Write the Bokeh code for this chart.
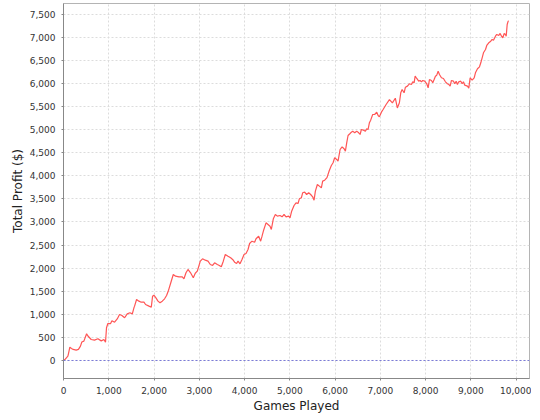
from bokeh.plotting import figure
from bokeh.models import Span, NumeralTickFormatter, FixedTicker, Range1d
from bokeh.embed import file_html
from bokeh.resources import INLINE

games = [0, 30, 97, 110, 140, 175, 215, 280, 330, 375, 405, 450, 510, 540, 612, 685, 760, 833, 893, 928,
         950, 980, 1040, 1070, 1128, 1187, 1238, 1290, 1350, 1408, 1467, 1520, 1556, 1570, 1614, 1666, 1717,
         1777, 1813, 1888, 1939, 1968, 1997, 2042, 2087, 2131, 2182, 2233, 2277, 2321, 2365, 2425, 2476,
         2551, 2624, 2661, 2706, 2750, 2807, 2867, 2911, 2955, 2971, 3022, 3072, 3132, 3192, 3243, 3294,
         3338, 3398, 3442, 3486, 3530, 3574, 3634, 3692, 3736, 3780, 3824, 3855, 3899, 3943, 3988, 4032,
         4076, 4111, 4164, 4222, 4253, 4311, 4355, 4386, 4421, 4474, 4518, 4562, 4591, 4635, 4680, 4724,
         4783, 4828, 4872, 4916, 4974, 5004, 5040, 5093, 5137, 5181, 5210, 5254, 5283, 5327, 5371, 5416,
         5460, 5504, 5535, 5564, 5608, 5652, 5696, 5725, 5770, 5820, 5870, 5917, 5955, 5990, 6034, 6065,
         6110, 6154, 6198, 6227, 6256, 6286, 6331, 6359, 6388, 6432, 6477, 6521, 6552, 6580, 6625, 6669,
         6698, 6728, 6757, 6786, 6830, 6874, 6919, 6950, 6978, 7023, 7060, 7130, 7200, 7265, 7330, 7375,
         7420, 7450, 7480, 7524, 7553, 7597, 7641, 7686, 7715, 7745, 7768, 7803, 7847, 7877, 7907, 7935,
         7980, 8024, 8055, 8084, 8128, 8157, 8187, 8216, 8245, 8276, 8305, 8349, 8393, 8437, 8481, 8510,
         8541, 8570, 8614, 8643, 8674, 8702, 8731, 8776, 8806, 8835, 8864, 8924, 8953, 8983, 9027, 9072,
         9100, 9145, 9189, 9218, 9248, 9277, 9322, 9350, 9394, 9438, 9469, 9498, 9542, 9571, 9615, 9646,
         9675, 9704, 9735, 9763, 9779, 9801, 9823, 9836]

profit = [0, 20, 93, 150, 290, 260, 240, 225, 240, 310, 400, 420, 580, 530, 455, 440, 470, 425, 455, 395,
          710, 800, 800, 860, 830, 900, 995, 975, 925, 1010, 1033, 1010, 1141, 1177, 1321, 1285, 1263,
          1263, 1213, 1177, 1155, 1393, 1415, 1357, 1285, 1249, 1285, 1336, 1408, 1523, 1668, 1863, 1826,
          1812, 1812, 1770, 1899, 1971, 1899, 1791, 1890, 1934, 1985, 2151, 2202, 2173, 2151, 2079, 2058,
          2116, 2079, 2058, 2029, 2151, 2296, 2259, 2224, 2188, 2130, 2101, 2151, 2094, 2188, 2296, 2318,
          2404, 2534, 2584, 2562, 2636, 2692, 2584, 2692, 2822, 2982, 2946, 2909, 2837, 3069, 3162, 3126,
          3141, 3112, 3162, 3112, 3126, 3090, 3234, 3357, 3415, 3400, 3502, 3524, 3632, 3646, 3595, 3632,
          3595, 3545, 3472, 3668, 3812, 3776, 3740, 3884, 3905, 3960, 4110, 4224, 4282, 4390, 4354, 4318,
          4570, 4628, 4585, 4534, 4715, 4873, 4917, 4945, 4967, 4931, 4967, 4931, 4895, 5003, 4989, 4967,
          5018, 5003, 5148, 5205, 5328, 5328, 5378, 5306, 5278, 5378, 5436, 5550, 5650, 5580, 5680, 5470,
          5582, 5798, 5870, 5798, 5920, 5942, 5993, 5978, 6036, 6014, 6158, 6108, 6050, 6065, 6036, 6065,
          6050, 5993, 5906, 6086, 6065, 6014, 6086, 6158, 6180, 6266, 6194, 6123, 6108, 6036, 5993, 5978,
          5942, 6065, 6050, 5993, 6050, 5978, 6036, 6050, 5993, 6036, 5963, 5942, 5900, 6123, 6071, 6123,
          6231, 6318, 6361, 6448, 6556, 6664, 6736, 6823, 6881, 6916, 6953, 6938, 7024, 7061, 7040, 7083,
          7024, 6989, 7083, 7061, 7024, 7277, 7349, 7350]

x_ticks = list(range(0, 10001, 1000))
y_ticks = list(range(0, 7501, 500))

FONT = "DejaVu Sans"

p = figure(frame_width=466, frame_height=375, output_backend="svg", toolbar_location=None,
           x_range=Range1d(0, 10294), y_range=Range1d(-390, 7732),
           min_border_left=63, min_border_right=2, min_border_top=3, min_border_bottom=30,
           background_fill_color="white", border_fill_color="white")

p.outline_line_color = "#b4b4b4"
p.outline_line_width = 1

p.line(games, profit, line_color="#ff5555", line_width=1.2)

zero = Span(location=0, dimension="width", line_color="#7a7ad8", line_width=1, line_dash="2 2")
p.add_layout(zero)

for ax in (p.xaxis[0], p.yaxis[0]):
    ax.axis_line_color = "#888888"
    ax.major_tick_line_color = "#888888"
    ax.major_tick_out = 2
    ax.major_tick_in = 0
    ax.minor_tick_line_color = None
    ax.major_label_text_font = FONT
    ax.major_label_text_font_size = "9px"
    ax.major_label_text_color = "#333333"
    ax.axis_label_text_font = FONT
    ax.axis_label_text_font_size = "12px"
    ax.axis_label_text_font_style = "normal"
    ax.axis_label_text_color = "#222222"
    ax.formatter = NumeralTickFormatter(format="0,0")

p.xaxis.ticker = FixedTicker(ticks=x_ticks)
p.yaxis.ticker = FixedTicker(ticks=y_ticks)
p.xaxis.axis_label = "Games Played"
p.yaxis.axis_label = "Total Profit ($)"
p.xaxis.major_label_standoff = 6
p.xaxis.axis_label_standoff = 2
p.yaxis.major_label_standoff = 6
p.yaxis.axis_label_standoff = 2

for g in (p.xgrid[0], p.ygrid[0]):
    g.grid_line_color = "#dcdcdc"
    g.grid_line_dash = "2 2"
    g.grid_line_width = 1

open("out.html", "w").write(file_html(p, INLINE))
